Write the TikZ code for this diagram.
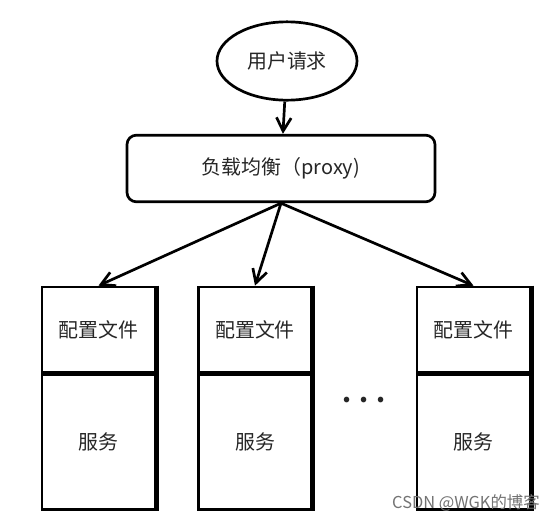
\documentclass[tikz,border=0pt]{standalone}
\usepackage{fontspec}
\setmainfont{Noto Sans CJK SC}
\usetikzlibrary{shapes,arrows.meta}

\begin{document}
\begin{tikzpicture}[x=0.03cm,y=-0.03cm]
        \tikzstyle{every node}+=[font=\fontsize{17}{20}\selectfont, text=black!85]
        \tikzstyle{cfg}=[draw, line width=2.3pt, minimum width=3.39cm, minimum height=2.55cm, inner sep=0pt]
        \tikzstyle{srv}=[draw, line width=2.3pt, minimum width=3.39cm, minimum height=4.05cm, inner sep=0pt]
        \tikzstyle{link}=[line width=2.3pt, -{Straight Barb[length=4mm,width=4.4mm,line width=2.3pt]}]
        \useasboundingbox (0,0) rectangle (559,524);
        \fill [white] (0,0) rectangle (559,524);
        \node [draw, ellipse, line width=2.3pt, minimum width=4.2cm, minimum height=2.35cm] (user) at (287,61) {用户请求};
        \node [draw, rounded corners=8pt, line width=2.3pt, minimum width=9.24cm, minimum height=2.0cm] (proxy) at (281,168.5) {负载均衡（proxy)};
        \node [cfg] (cfgA) at (98.5,329.5) {配置文件};
        \node [srv, anchor=north] (srvA) at (cfgA.south) {服务};
        \node [cfg] (cfgB) at (255,329.5) {配置文件};
        \node [srv, anchor=north] (srvB) at (cfgB.south) {服务};
        \node [cfg] (cfgC) at (473.5,329.5) {配置文件};
        \node [srv, anchor=north] (srvC) at (cfgC.south) {服务};
        \draw [line width=3.8pt] (cfgA.north east) -- (srvA.south east);
        \draw [line width=3.8pt] (cfgB.north east) -- (srvB.south east);
        \draw [line width=3.8pt] (cfgC.north east) -- (srvC.south east);
        \node [font=\fontsize{22}{24}\bfseries] (dots) at (364,400) {. . .};
        \draw [link] (user) -- (proxy);
        \draw [link] (proxy.south) -- (cfgA.north);
        \draw [link] (proxy.south) -- (cfgB.north);
        \draw [link] (proxy.south) -- (cfgC.north);
        \node [text=black!55, font=\fontsize{14}{16}\selectfont] (mark) at (466,503) {CSDN @WGK的博客};
\end{tikzpicture}
\end{document}
